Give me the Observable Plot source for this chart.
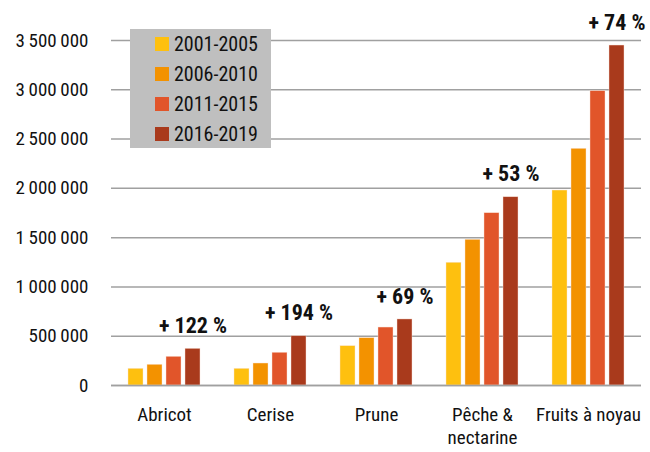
<!DOCTYPE html>
<html>
<head>
<meta charset="utf-8">
<script src="https://cdn.jsdelivr.net/npm/d3@7"></script>
<script src="https://cdn.jsdelivr.net/npm/@observablehq/plot@0.6"></script>
<style>
  html, body { margin: 0; padding: 0; background: #fff; }
  #wrap { position: relative; width: 650px; height: 452px; font-family: "Roboto Condensed", "DejaVu Sans Condensed", sans-serif; }
  #legend { position: absolute; left: 130px; top: 29px; width: 141px; height: 119px; background: #bfbfbf; }
  .row { position: absolute; left: 25px; height: 20px; display: flex; align-items: center; font-size: 20px; color: #111; white-space: nowrap; }
  .sw { width: 14px; height: 14px; margin-right: 5px; }
</style>
</head>
<body>
<div id="wrap"></div>
<script>
const categories = ["Abricot", "Cerise", "Prune", "Pêche &\nnectarine", "Fruits à noyau"];
const series = ["2001-2005", "2006-2010", "2011-2015", "2016-2019"];
const colors = ["#FEC00F", "#F39200", "#E1552A", "#A93A1C"];
const v2001_2005 = [169000, 169000, 399000, 1245000, 1978000];
const v2006_2010 = [210000, 223000, 480000, 1478000, 2401000];
const v2011_2015 = [291000, 332000, 588000, 1748000, 2986000];
const v2016_2019 = [372000, 500000, 670000, 1910000, 3449000];
const growthLabels = ["+ 122 %", "+ 194 %", "+ 69 %", "+ 53 %", "+ 74 %"];
const yTicks = [0, 500000, 1000000, 1500000, 2000000, 2500000, 3000000, 3500000];

const seriesValues = [v2001_2005, v2006_2010, v2011_2015, v2016_2019];
const data = [];
categories.forEach((c, i) => series.forEach((s, j) => data.push({cat: c, serie: s, value: seriesValues[j][i]})));
const labels = categories.map((c, i) => ({cat: c, serie: series[3], value: v2016_2019[i], label: growthLabels[i]}));

const fmt = d3.formatLocale({decimal: ",", thousands: "\u2009", grouping: [3], currency: ["", ""]}).format(",d");
const font = getComputedStyle(document.getElementById("wrap")).fontFamily;

const chart = Plot.plot({
  width: 650,
  height: 452,
  marginLeft: 109,
  marginRight: 8,
  marginTop: 40,
  marginBottom: 67,
  style: {fontFamily: font, fontSize: "19px", color: "#111", background: "white"},
  fx: {domain: categories, padding: 0, label: null},
  x: {domain: series, paddingInner: 0.21, paddingOuter: 0.86, axis: null},
  y: {domain: [0, 3500000], label: null},
  color: {domain: series, range: colors},
  marks: [
    Plot.ruleY(yTicks, {stroke: "#a0a0a0", strokeWidth: 1.5}),
    Plot.axisY({ticks: yTicks, tickFormat: fmt, tickSize: 0, tickPadding: 23, fontSize: 19, label: null}),
    Plot.axisFx({anchor: "bottom", tickSize: 0, tickPadding: 20, fontSize: 19, lineAnchor: "top", label: null, lineHeight: 1.17}),
    Plot.barY(data, {fx: "cat", x: "serie", y: "value", fill: "serie", stroke: "#fbe3d6", strokeWidth: 0.6, strokeOpacity: 0.7}),
    Plot.ruleY([0], {stroke: "#a0a0a0", strokeWidth: 1.5}),
    Plot.text(labels, {fx: "cat", x: "serie", y: "value", text: "label", dy: -23, fontSize: 22, fontWeight: "bold", fill: "#111"})
  ]
});

const wrap = document.getElementById("wrap");
wrap.appendChild(chart);
const legend = document.createElement("div");
legend.id = "legend";
series.forEach((s, i) => {
  const row = document.createElement("div");
  row.className = "row";
  row.style.top = (5 + i * 30) + "px";
  const sw = document.createElement("span");
  sw.className = "sw";
  sw.style.background = colors[i];
  row.appendChild(sw);
  row.appendChild(document.createTextNode(s));
  legend.appendChild(row);
});
wrap.appendChild(legend);
</script>
</body>
</html>
